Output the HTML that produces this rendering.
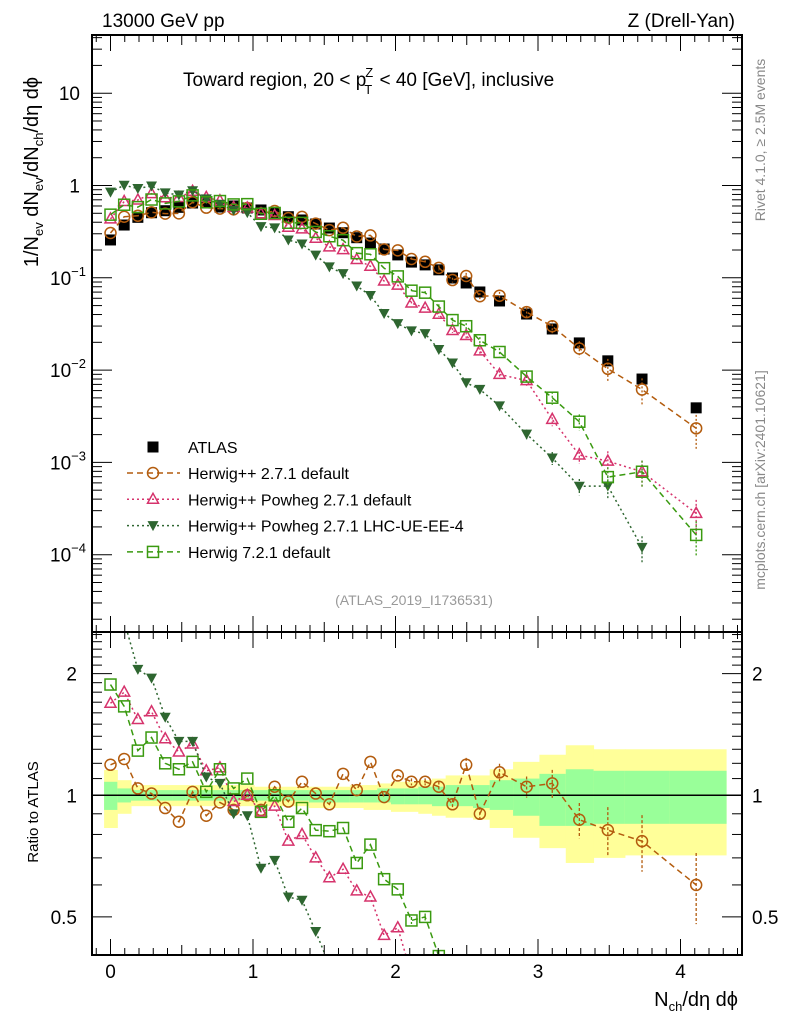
<!DOCTYPE html>
<html><head><meta charset="utf-8"><style>
html,body{margin:0;padding:0;background:#fff;overflow:hidden;width:786px;height:1024px;}
svg{display:block;font-family:"Liberation Sans",sans-serif;}
</style></head><body>
<svg id="chart" width="786" height="1024" viewBox="0 0 786 1024" xmlns="http://www.w3.org/2000/svg">
<g id="bands"></g>
<g id="layer"></g>
<text x="102" y="27" font-size="19">13000 GeV pp</text>
<text x="735" y="27" font-size="19" text-anchor="end">Z (Drell-Yan)</text>
<text x="183" y="86" font-size="19">Toward region, 20 &lt; p<tspan font-size="13" dx="-1" dy="-9">Z</tspan><tspan font-size="13" dx="-9" dy="17">T</tspan><tspan dy="-8" dx="2"> &lt; 40 [GeV], inclusive</tspan></text>
<text transform="translate(38,172) rotate(-90)" font-size="20" text-anchor="middle">1/N<tspan font-size="13" dy="5">ev</tspan><tspan dy="-5"> dN</tspan><tspan font-size="13" dy="5">ev</tspan><tspan dy="-5">/dN</tspan><tspan font-size="13" dy="5">ch</tspan><tspan dy="-5">/dη dϕ</tspan></text>
<text transform="translate(765,140) rotate(-90)" font-size="14" fill="#888" text-anchor="middle">Rivet 4.1.0, ≥ 2.5M events</text>
<text transform="translate(765,480) rotate(-90)" font-size="14" fill="#888" text-anchor="middle">mcplots.cern.ch [arXiv:2401.10621]</text>
<text x="414" y="605" font-size="14" fill="#999" text-anchor="middle">(ATLAS_2019_I1736531)</text>
<text transform="translate(38,812) rotate(-90)" font-size="15" text-anchor="middle">Ratio to ATLAS</text>
<text x="738" y="1006" font-size="20" text-anchor="end">N<tspan font-size="13" dy="5">ch</tspan><tspan dy="-5">/dη dϕ</tspan></text>
<g id="legend"></g>
</svg>
<script>
const xVals=[0,0.096,0.192,0.288,0.384,0.48,0.576,0.672,0.768,0.864,0.96,1.056,1.152,1.248,1.344,1.44,1.536,1.632,1.728,1.824,1.92,2.016,2.112,2.208,2.304,2.4,2.496,2.592,2.73,2.92,3.10,3.29,3.49,3.73,4.11];
const atlas=[0.257,0.373,0.452,0.507,0.533,0.580,0.646,0.646,0.585,0.600,0.571,0.543,0.504,0.459,0.423,0.383,0.346,0.308,0.272,0.238,0.205,0.177,0.148,0.138,0.122,0.0995,0.0879,0.0702,0.0561,0.0405,0.0279,0.0197,0.0126,0.0080,0.0039];
const ratioH27=[1.19,1.23,1.04,1.01,0.93,0.86,1.02,0.89,0.96,0.92,1.0,0.92,1.05,0.965,1.08,1.01,0.95,1.13,1.03,1.21,0.99,1.12,1.08,1.08,1.05,0.95,1.19,0.90,1.14,1.05,1.07,0.87,0.82,0.77,0.60];
const ratioPow=[1.69,1.80,1.54,1.61,1.38,1.28,1.34,1.15,1.17,0.965,1.0,0.91,0.94,0.77,0.80,0.70,0.625,0.656,0.58,0.56,0.45,0.47,0.36,0.34,0.33,0.27,0.27,0.23,0.16,0.19,0.105,0.061,0.082,0.099,0.072];
const ratioUE=[3.3,2.7,2.05,1.95,1.56,1.36,1.36,1.11,1.07,0.90,0.89,0.66,0.69,0.56,0.55,0.46,0.38,0.36,0.30,0.27,0.20,0.18,0.18,0.18,0.137,0.12,0.083,0.088,0.073,0.05,0.04,0.028,0.044,0.015,null];
const ratioH7=[1.88,1.66,1.29,1.39,1.20,1.16,1.21,1.02,1.16,1.04,1.10,0.91,1.0,0.86,0.93,0.82,0.815,0.83,0.68,0.755,0.62,0.585,0.49,0.50,0.40,0.35,0.34,0.30,0.28,0.21,0.18,0.14,0.055,0.099,0.042];
const errMC=[0,0,0,0,0,0,0,0,0,0,0,0,0,0,0,0,0,0,0,0,0,0,0.02,0.02,0.03,0.03,0.04,0.04,0.05,0.06,0.08,0.1,0.14,0.16,0.2];
const yelHi=[1.155,1.09,1.06,1.06,1.06,1.06,1.06,1.06,1.06,1.06,1.06,1.05,1.05,1.05,1.05,1.05,1.05,1.05,1.06,1.06,1.07,1.08,1.08,1.09,1.10,1.12,1.12,1.12,1.16,1.21,1.26,1.33,1.30,1.30,1.30];
const yelLo=[0.83,0.90,0.94,0.94,0.94,0.94,0.94,0.94,0.94,0.94,0.94,0.94,0.94,0.94,0.94,0.93,0.93,0.93,0.93,0.92,0.92,0.91,0.91,0.90,0.89,0.88,0.88,0.87,0.83,0.785,0.74,0.68,0.70,0.71,0.71];
const grnHi=[1.08,1.04,1.03,1.03,1.03,1.03,1.03,1.03,1.03,1.03,1.03,1.03,1.03,1.03,1.03,1.03,1.03,1.03,1.03,1.03,1.04,1.04,1.04,1.05,1.05,1.06,1.06,1.06,1.09,1.10,1.13,1.16,1.15,1.15,1.15];
const grnLo=[0.92,0.96,0.97,0.97,0.97,0.97,0.97,0.97,0.97,0.97,0.97,0.97,0.97,0.97,0.97,0.96,0.96,0.96,0.96,0.96,0.96,0.95,0.95,0.95,0.94,0.94,0.94,0.93,0.92,0.89,0.84,0.84,0.85,0.85,0.85];
const xTickLabels=["0","1","2","3","4"];
const yMainLabels=[[1,"10"],[0,"1"],[-1,"10","−1"],[-2,"10","−2"],[-3,"10","−3"],[-4,"10","−4"]];
const yRatioLabels=[[2,"2"],[1,"1"],[0.5,"0.5"]];

const NS="http://www.w3.org/2000/svg";
const L=92,R=742,T=35,MB=632,RB=955;
const X=v=>110.5+v*142.5;
const YM=v=>185.5-92.3*Math.log10(v);
const YR=v=>795.3-404*Math.log10(v);
const layer=document.getElementById('layer');
function mk(tag,attrs,parent){const e=document.createElementNS(NS,tag);for(const k in attrs)e.setAttribute(k,attrs[k]);(parent||layer).appendChild(e);return e;}

const bands=document.getElementById('bands');
const edges=[];edges.push(-0.045);
for(let i=0;i<xVals.length-1;i++)edges.push((xVals[i]+xVals[i+1])/2);
edges.push(4.32);
for(let i=0;i<xVals.length;i++){
  const x0=X(edges[i]),x1=X(edges[i+1]);
  const y1=mk('rect',{x:x0,y:YR(yelHi[i]),width:x1-x0+0.5,height:YR(yelLo[i])-YR(yelHi[i]),fill:'#ffff99'},bands);
  
  
  const g1=mk('rect',{x:x0,y:YR(grnHi[i]),width:x1-x0+0.5,height:YR(grnLo[i])-YR(grnHi[i]),fill:'#99ff99'},bands);
  
  
}
const one=mk('line',{x1:L,x2:R,y1:YR(1),y2:YR(1),stroke:'#000','stroke-width':1.5});



const defs=mk('defs',{});
const c1=mk('clipPath',{id:'cm'},defs);mk('rect',{x:L,y:T,width:R-L,height:MB-T},c1);
const c2=mk('clipPath',{id:'cr'},defs);mk('rect',{x:L,y:MB,width:R-L,height:RB-MB},c2);

function marker(g,type,x,y,col){
  let m;
  if(type==='sq') m=mk('rect',{x:x-5.5,y:y-5.5,width:11,height:11,fill:'#000'},g);
  else if(type==='circ') m=mk('circle',{cx:x,cy:y,r:5.5,fill:'none',stroke:col,'stroke-width':1.5},g);
  else if(type==='tri') m=mk('path',{d:`M${x},${y-6}L${x+5.5},${y+4}L${x-5.5},${y+4}Z`,fill:'none',stroke:col,'stroke-width':1.5},g);
  else if(type==='dtri') m=mk('path',{d:`M${x-5.5},${y-4.5}L${x+5.5},${y-4.5}L${x},${y+5.5}Z`,fill:col},g);
  else if(type==='osq') m=mk('rect',{x:x-5.5,y:y-5.5,width:11,height:11,fill:'none',stroke:col,'stroke-width':1.5},g);
  return m;
}
const series=[
 {name:'herwigpp-271-default',r:ratioH27,col:'#b35c0e',dash:'6,4',m:'circ',label:'Herwig++ 2.7.1 default'},
 {name:'herwigpp-powheg-271-default',r:ratioPow,col:'#d6336c',dash:'2,3',m:'tri',label:'Herwig++ Powheg 2.7.1 default'},
 {name:'herwigpp-powheg-271-lhc-ue-ee-4',r:ratioUE,col:'#2e6630',dash:'2,3',m:'dtri',label:'Herwig++ Powheg 2.7.1 LHC-UE-EE-4'},
 {name:'herwig-721-default',r:ratioH7,col:'#3a9a10',dash:'6,4',m:'osq',label:'Herwig 7.2.1 default'}
];
const ga=mk('g',{'clip-path':'url(#cm)'});


xVals.forEach((xv,i)=>{
  const a=marker(ga,'sq',X(xv),YM(atlas[i]),'#000');
  
  
});
series.forEach(s=>{
  const gm=mk('g',{'clip-path':'url(#cm)'});
  
  
  const gr=mk('g',{'clip-path':'url(#cr)'});
  
  
  let pm='',pr='';
  xVals.forEach((xv,i)=>{
    if(s.r[i]==null)return;
    const v=atlas[i]*s.r[i];
    pm+=(pm?'L':'M')+X(xv)+','+YM(v);
    pr+=(pr?'L':'M')+X(xv)+','+YR(s.r[i]);
  });
  mk('path',{d:pm,fill:'none',stroke:s.col,'stroke-width':1.5,'stroke-dasharray':s.dash},gm);
  mk('path',{d:pr,fill:'none',stroke:s.col,'stroke-width':1.5,'stroke-dasharray':s.dash},gr);
  xVals.forEach((xv,i)=>{
    if(s.r[i]==null)return;
    const v=atlas[i]*s.r[i],e=errMC[i];
    if(e>0){
      const lo=Math.max(v*(1-e*2),1e-6);
      mk('line',{x1:X(xv),x2:X(xv),y1:YM(v*(1+e*2)),y2:YM(lo),stroke:s.col,'stroke-width':1.3,'stroke-dasharray':'2,2'},gm);
      mk('line',{x1:X(xv),x2:X(xv),y1:YR(s.r[i]*(1+e)),y2:YR(s.r[i]*(1-e)),stroke:s.col,'stroke-width':1.3,'stroke-dasharray':'3,2'},gr);
    }
    const a=marker(gm,s.m,X(xv),YM(v),s.col);
    
    
    const b=marker(gr,s.m,X(xv),YR(s.r[i]),s.col);
    
    
  });
});

[[T,MB],[MB,RB]].forEach(([t,b],k)=>{
  const f=mk('rect',{x:L,y:t,width:R-L,height:b-t,fill:'none',stroke:'#000','stroke-width':2});
  
  
  for(let v=-0.1;v<=4.41;v+=0.1){
    const r=Math.round(v*10);const x=X(r/10);if(x<L||x>R)continue;
    const len=r%10===0?16:(r%5===0?10:7);
    mk('line',{x1:x,x2:x,y1:b,y2:b-len,stroke:'#000','stroke-width':1});
    mk('line',{x1:x,x2:x,y1:t,y2:t+len,stroke:'#000','stroke-width':1});
  }
});
for(let d=-5;d<=1;d++){for(let m=1;m<10;m++){const y=YM(m*Math.pow(10,d));if(y<T||y>MB)continue;const len=m===1?20:10;
 mk('line',{x1:L,x2:L+len,y1:y,y2:y,stroke:'#000'});mk('line',{x1:R,x2:R-len,y1:y,y2:y,stroke:'#000'});}}
for(let v=0.4;v<=2.55;v+=0.1){const r=Math.round(v*10)/10;const y=YR(r);if(y<MB||y>RB)continue;const len=(r===0.5||r===1||r===2)?20:10;
 mk('line',{x1:L,x2:L+len,y1:y,y2:y,stroke:'#000'});mk('line',{x1:R,x2:R-len,y1:y,y2:y,stroke:'#000'});}
xTickLabels.forEach((t,i)=>{const e=mk('text',{x:X(i),y:978,'font-size':19,'text-anchor':'middle'});e.textContent=t;
 
 });
yMainLabels.forEach(l=>{const e=mk('text',{x:l[2]?86:80,y:YM(Math.pow(10,l[0]))+7,'font-size':19,'text-anchor':'end'});
 const b=mk('tspan',{},e);b.textContent=l[1];
 if(l[2]){const s=mk('tspan',{'font-size':13,dy:-9},e);s.textContent=l[2];}
 
 });
yRatioLabels.forEach(l=>{
 const e=mk('text',{x:77,y:YR(l[0])+7,'font-size':19,'text-anchor':'end'});e.textContent=l[1];
 
 
 const e2=mk('text',{x:752,y:YR(l[0])+7,'font-size':19});e2.textContent=l[1];
 
 });
const lg=document.getElementById('legend');
const le=mk('g',{},lg);


marker(le,'sq',153,447,'#000');
const lt=mk('text',{x:188,y:453,'font-size':16},le);lt.textContent='ATLAS';
series.forEach((s,k)=>{
  const y=473+k*26.3;
  const g=mk('g',{},lg);
  
  
  mk('line',{x1:127,x2:180,y1:y,y2:y,stroke:s.col,'stroke-width':1.5,'stroke-dasharray':s.dash},g);
  marker(g,s.m,153,y,s.col);
  const t=mk('text',{x:188,y:y+6,'font-size':16},g);t.textContent=s.label;
});
</script>
</body></html>
